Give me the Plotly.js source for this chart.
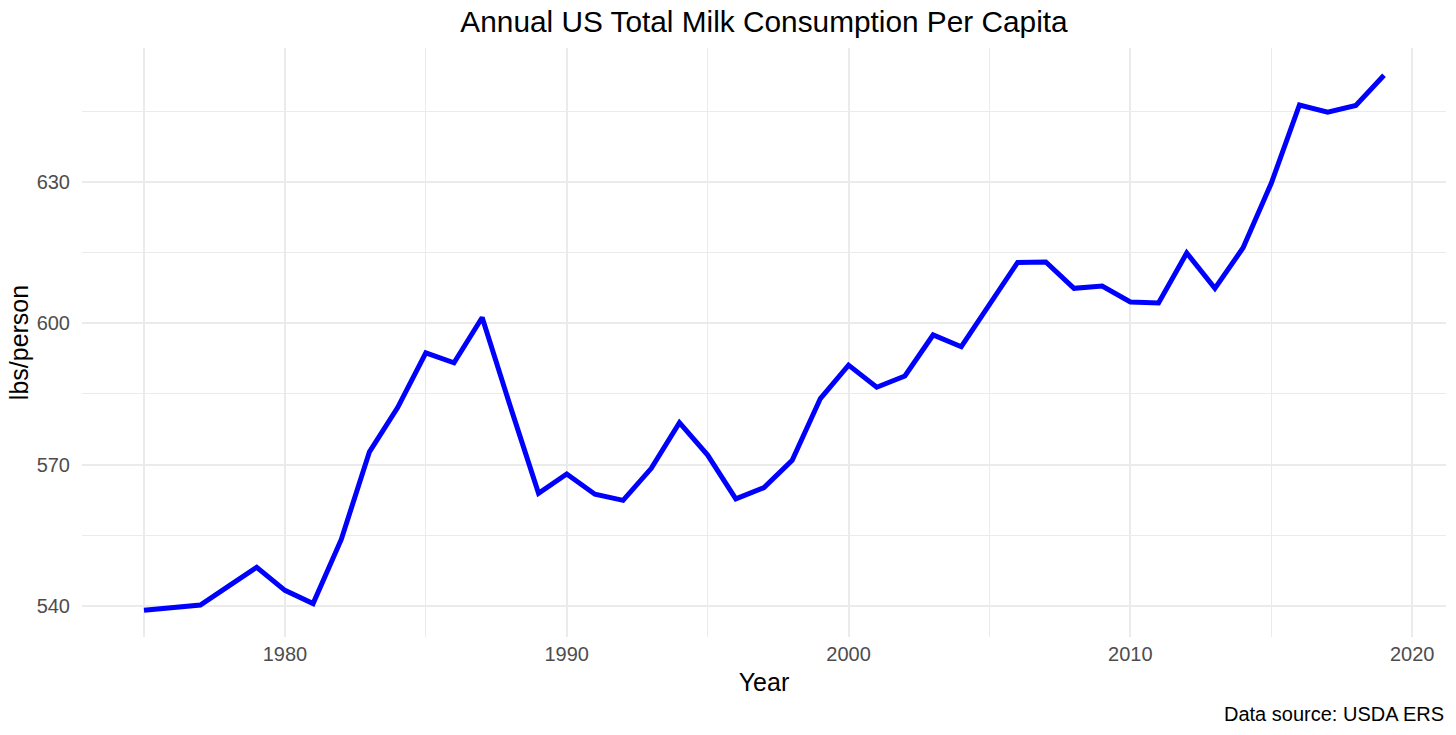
<!DOCTYPE html>
<html>
<head>
<meta charset="utf-8">
<script src="https://cdn.plot.ly/plotly-3.0.1.min.js"></script>
<style>
  html, body { margin: 0; padding: 0; background: #ffffff; }
  #chart { width: 1456px; height: 735px; }
</style>
</head>
<body>
<div id="chart"></div>
<script>
// ---- Data ----
const years = [
  1975, 1976, 1977, 1978, 1979, 1980, 1981, 1982, 1983, 1984,
  1985, 1986, 1987, 1988, 1989, 1990, 1991, 1992, 1993, 1994,
  1995, 1996, 1997, 1998, 1999, 2000, 2001, 2002, 2003, 2004,
  2005, 2006, 2007, 2008, 2009, 2010, 2011, 2012, 2013, 2014,
  2015, 2016, 2017, 2018, 2019
];
const lbsPerPerson = [
  539.1, 539.6, 540.2, 544.2, 548.2, 543.3, 540.5, 554.1, 572.7, 582.1,
  593.7, 591.6, 601.2, 582.3, 563.9, 568.0, 563.7, 562.4, 569.2, 578.9,
  572.0, 562.7, 565.1, 570.9, 584.0, 591.1, 586.4, 588.8, 597.5, 595.0,
  603.8, 612.9, 613.0, 607.4, 607.9, 604.5, 604.3, 614.9, 607.4, 616.0,
  629.7, 646.3, 644.8, 646.2, 652.6
];
const xTickVals = [1980, 1990, 2000, 2010, 2020];
const xTickText = ["1980", "1990", "2000", "2010", "2020"];
const yTickVals = [540, 570, 600, 630];
const yTickText = ["540", "570", "600", "630"];

const titleText = "Annual US Total Milk Consumption Per Capita";
const xTitle = "Year";
const yTitle = "lbs/person";
const captionText = "Data source: USDA ERS";

const FONT = "Liberation Sans, Arial, Helvetica, sans-serif";
const GRID = "#EBEBEB";

const trace = {
  x: years,
  y: lbsPerPerson,
  type: "scatter",
  mode: "lines",
  line: { color: "#0000FF", width: 5 },
  hoverinfo: "x+y"
};

const layout = {
  width: 1456,
  height: 735,
  paper_bgcolor: "#ffffff",
  plot_bgcolor: "#ffffff",
  margin: { l: 82, r: 10, t: 48, b: 98, pad: 0 },
  showlegend: false,
  font: { family: FONT, color: "#000000" },
  title: {
    text: titleText,
    font: { family: FONT, size: 29.8, color: "#000000" },
    x: 0.5, xref: "paper", xanchor: "center",
    y: 0.970, yref: "container", yanchor: "middle"
  },
  xaxis: {
    range: [1972.8, 2021.2],
    tickmode: "array",
    tickvals: xTickVals,
    ticktext: xTickText,
    ticks: "",
    ticklabelstandoff: 3,
    tickfont: { family: FONT, size: 20, color: "#4D4D4D" },
    showgrid: true,
    gridcolor: GRID,
    gridwidth: 2,
    minor: { dtick: 5, tick0: 1975, showgrid: true, gridcolor: GRID, gridwidth: 1.2, ticks: "" },
    zeroline: false,
    showline: false,
    automargin: false,
    title: { text: xTitle, font: { family: FONT, size: 25, color: "#000000" }, standoff: 9 }
  },
  yaxis: {
    range: [533.4, 658.4],
    tickmode: "array",
    tickvals: yTickVals,
    ticktext: yTickText,
    ticks: "outside",
    ticklen: 7,
    tickcolor: "rgba(0,0,0,0)",
    tickfont: { family: FONT, size: 20, color: "#4D4D4D" },
    showgrid: true,
    gridcolor: GRID,
    gridwidth: 2,
    minor: { dtick: 15, tick0: 540, showgrid: true, gridcolor: GRID, gridwidth: 1.2, ticks: "" },
    zeroline: false,
    showline: false,
    automargin: false,
    title: { text: yTitle, font: { family: FONT, size: 25, color: "#000000" }, standoff: 0 }
  },
  annotations: [{
    text: captionText,
    xref: "paper", yref: "paper",
    x: 1, y: -0.131,
    xanchor: "right", yanchor: "middle",
    showarrow: false,
    font: { family: FONT, size: 20, color: "#000000" }
  }]
};

Plotly.newPlot("chart", [trace], layout, { displayModeBar: false, staticPlot: true });
</script>
</body>
</html>
